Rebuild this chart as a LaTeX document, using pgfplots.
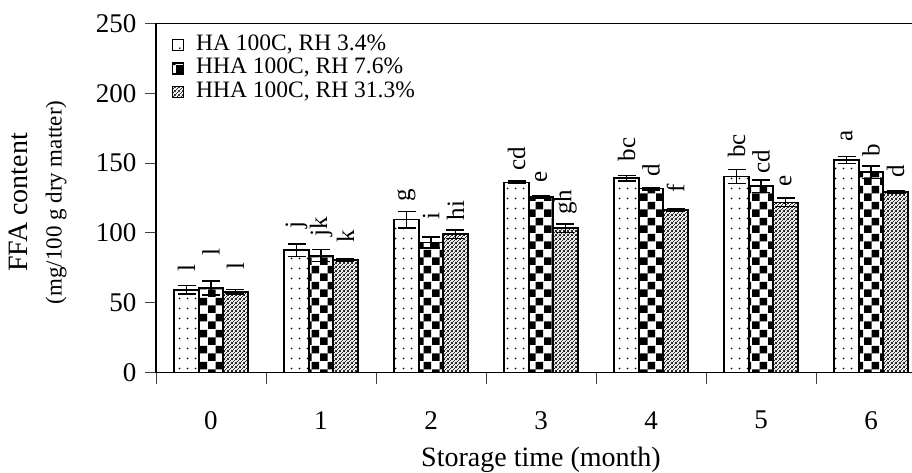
\documentclass[border=0pt]{standalone}
\usepackage{fontspec}
\setmainfont{Liberation Serif}
\usepackage{pgfplots}
\pgfplotsset{compat=1.18}
\usepackage{pgfplotstable}
\usetikzlibrary{patterns.meta}

\tikzdeclarepattern{
  name=sparsedots,
  type=uncolored,
  bottom left={(0pt,0pt)},
  top right={(8pt,10pt)},
  tile size={(8pt,10pt)},
  code={\fill (4pt,5pt) circle (1pt);}
}
\tikzdeclarepattern{
  name=bigchecker,
  type=uncolored,
  bottom left={(0pt,0pt)},
  top right={(16pt,16pt)},
  tile size={(16pt,16pt)},
  code={\fill (0pt,0pt) rectangle (8pt,8pt); \fill (8pt,8pt) rectangle (16pt,16pt);}
}
\tikzdeclarepattern{
  name=nelines,
  type=uncolored,
  bottom left={(0pt,0pt)},
  top right={(3.5pt,3.5pt)},
  tile size={(3.5pt,3.5pt)},
  code={\draw[line width=0.7pt] (-1pt,-1pt) -- (4.5pt,4.5pt);
        \draw[line width=0.7pt] (-4.5pt,-1pt) -- (1pt,4.5pt);
        \draw[line width=0.7pt] (2.5pt,-1pt) -- (8pt,4.5pt);}
}

\pgfplotstableread{
x y e
0 59.3 3
1 87.7 4.4
2 109.5 6
3 136.2 1
4 139.1 2
5 140.5 5
6 152.0 2.5
}\sA
\pgfplotstableread{
x y e
0 60.5 5
1 83.7 4.3
2 93.2 4
3 125.5 1
4 131.7 1
5 133.4 4.5
6 143.4 4.5
}\sB
\pgfplotstableread{
x y e
0 57.9 1.5
1 80.6 1
2 99.2 3
3 103.5 3
4 116.6 1
5 121.9 3
6 129.3 1
}\sC
\pgfplotstableread{
x y t
-0.2227 72.0 l
0 83.8 l
0.2227 73.5 l
0.7773 103.0 j
1 97.5 jk
1.2227 92.8 k
1.7773 122.4 g
2 109.5 i
2.2227 109.0 hi
2.7773 144.8 cd
3 136.2 e
3.2227 113.0 gh
3.7773 151.3 bc
4 140.5 d
4.2227 128.6 f
4.7773 153.7 bc
5 142.5 cd
5.2227 133.4 e
5.7773 165.6 a
6 154.9 b
6.2227 139.4 d
}\labs

\pgfplotsset{
  errstyle/.style={forget plot, draw=none, mark=none,
    error bars/.cd, y dir=both, y explicit,
    error bar style={line width=1.4pt, black},
    error mark options={rotate=90, mark size=9pt, line width=1.4pt, black}},
  barstyle/.style={ybar, bar width=24.5pt, draw=black, line width=1.6pt, preaction={fill=white}},
}

\begin{document}
\begin{tikzpicture}
\useasboundingbox (-156pt,-100.3pt) rectangle (756pt,372.7pt);
\begin{axis}[
  scale only axis, width=770pt, height=349.4pt,
  xmin=-0.5, xmax=6.5, ymin=0, ymax=250,
  xtick={0,...,6}, minor xtick={-0.5,0.5,...,6.5},
  ytick={0,50,...,250},
  tick align=outside, major tick length=11pt, minor tick length=11pt,
  xtick pos=left, ytick pos=left,
  major x tick style={draw=none},
  tick style={black!75, line width=0.9pt},
  axis line style={line width=1.3pt},
  ticklabel style={font=\fontsize{27}{30}\selectfont},
  /pgf/number format/assume math mode=true,
  xticklabel style={yshift=-24pt},
  yticklabel style={xshift=-5pt},
  xlabel={Storage time (month)},
  xlabel style={font=\fontsize{28}{28}\selectfont, at={(axis description cs:0.5,0)}, anchor=base, yshift=-93.5pt},
  ylabel={FFA content\\[6pt]{\fontsize{23}{23}\selectfont (mg/100 g dry matter)}},
  ylabel style={font=\fontsize{28}{28}\selectfont, align=center, at={(axis description cs:-0.1535,0.487)}, anchor=center},
  legend cell align=left,
  legend image code/.code={\draw[#1, line width=1pt] (0pt,-5.5pt) rectangle (11pt,5.5pt);},
  legend style={at={(axis description cs:0,1)}, anchor=north west, xshift=16pt, yshift=-11pt,
    draw=none, fill=none, font=\fontsize{23.5}{24}\selectfont, row sep=2.5pt, inner sep=0pt,
    nodes={inner sep=0pt, text height=16pt, text depth=5pt},
    /tikz/every odd column/.append style={column sep=12pt}},
]
\addplot[barstyle, bar shift=-24.5pt, pattern=sparsedots] table[x=x, y=y]{\sA};
\addlegendentry{HA 100C, RH 3.4\%}
\addplot[barstyle, bar shift=0pt, pattern=bigchecker] table[x=x, y=y]{\sB};
\addlegendentry{HHA 100C, RH 7.6\%}
\addplot[barstyle, bar shift=24.5pt, pattern=nelines] table[x=x, y=y]{\sC};
\addlegendentry{HHA 100C, RH 31.3\%}
\addplot[errstyle] table[x expr=\thisrow{x}-0.2227, y=y, y error=e]{\sA};
\addplot[errstyle] table[x=x, y=y, y error=e]{\sB};
\addplot[errstyle] table[x expr=\thisrow{x}+0.2227, y=y, y error=e]{\sC};
\addplot[forget plot, draw=none, mark=none, nodes near coords, point meta=explicit symbolic,
  every node near coord/.style={rotate=90, anchor=west, inner sep=0pt, font=\fontsize{25}{25}\selectfont, black}]
  table[x=x, y=y, meta=t]{\labs};
\end{axis}
\end{tikzpicture}
\end{document}
